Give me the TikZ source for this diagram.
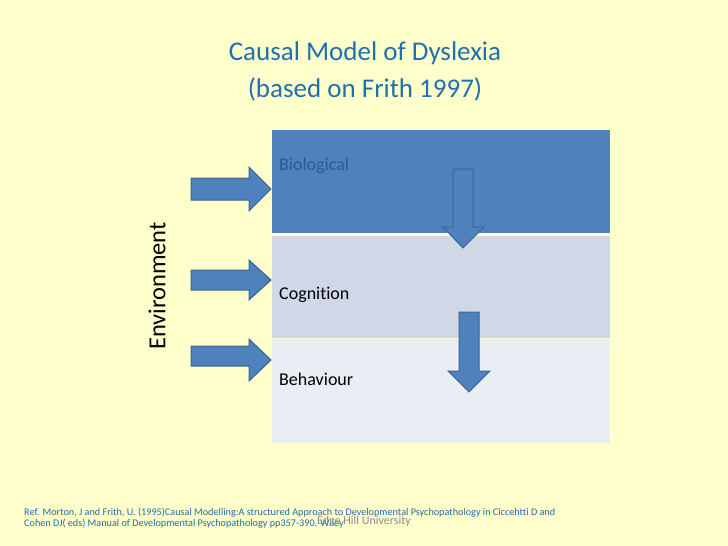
\documentclass[tikz,border=0pt]{standalone}
\usepackage{fontspec}
\setmainfont[Ligatures=NoCommon]{Carlito}
\usetikzlibrary{positioning}
\definecolor{bgyellow}{HTML}{FFFFCC}
\definecolor{biofill}{HTML}{4F81BD}
\definecolor{cogfill}{HTML}{D0D8E8}
\definecolor{behfill}{HTML}{E9EDF4}
\definecolor{arrowline}{HTML}{3A6496}
\definecolor{titleblue}{HTML}{1F70B0}
\definecolor{biotext}{HTML}{2C5A92}
\definecolor{reftext}{HTML}{1F6FA8}
\definecolor{footgray}{HTML}{8C8C8C}
\tikzset{
  rowbox/.style={anchor=north west, minimum width=338pt, inner sep=0pt, draw=none},
  rowlabel/.style={anchor=west, inner sep=0pt, font=\fontsize{18}{20}\selectfont},
  blockarrow/.style={fill=biofill, draw=arrowline, line width=1pt, line join=miter},
}
\begin{document}
\begin{tikzpicture}[x=1pt,y=-1pt]
\useasboundingbox[fill=bgyellow] (0,0) rectangle (728,546);
% title
\node[titleblue, align=center, font=\fontsize{27}{37}\selectfont] (title) at (365,71) {Causal Model of Dyslexia\\(based on Frith 1997)};
% rows
\node[rowbox, fill=biofill, minimum height=103pt] (bio) at (272,130) {};
\node[rowbox, fill=cogfill, minimum height=102pt] (cog) at (272,236) {};
\node[rowbox, fill=behfill, minimum height=104pt] (beh) at (272,339) {};
\node[rowlabel, biotext] (biolab) at (279,166) {Biological};
\node[rowlabel, black] (coglab) at (279,295) {Cognition};
\node[rowlabel, black] (behlab) at (279,379) {Behaviour};
% environment
\node[rotate=90, font=\fontsize{24.5}{28}\selectfont, black] (env) at (157,286) {Environment};
% right arrows
\draw[blockarrow] (191,178) -- (249,178) -- (249,167) -- (271,189) -- (249,211) -- (249,200) -- (191,200) -- cycle;
\draw[blockarrow] (191,270) -- (249,270) -- (249,260) -- (271,280) -- (249,300) -- (249,290) -- (191,290) -- cycle;
\draw[blockarrow] (191,346) -- (249,346) -- (249,339) -- (271,360) -- (249,381) -- (249,366) -- (191,366) -- cycle;
% down arrows
\draw[blockarrow] (453,169) -- (473,169) -- (473,227) -- (484,227) -- (463,248) -- (443,227) -- (453,227) -- cycle;
\draw[blockarrow] (459,312) -- (479,312) -- (479,371) -- (490,371) -- (469,392) -- (448,371) -- (459,371) -- cycle;
% reference
\node[anchor=north west, align=left, reftext, inner sep=0pt, font=\fontsize{10.2}{10.8}\selectfont] (ref) at (24,508) {Ref. Morton, J and Frith, U. (1995)Causal Modelling:A structured Approach to Developmental Psychopathology in Ciccehtti D and\\Cohen DJ( eds) Manual of Developmental Psychopathology pp357-390. Wiley};
\node[anchor=west, footgray, inner sep=0pt, font=\fontsize{12}{14}\selectfont] (edge) at (317,521) {Edge Hill University};
\end{tikzpicture}
\end{document}
